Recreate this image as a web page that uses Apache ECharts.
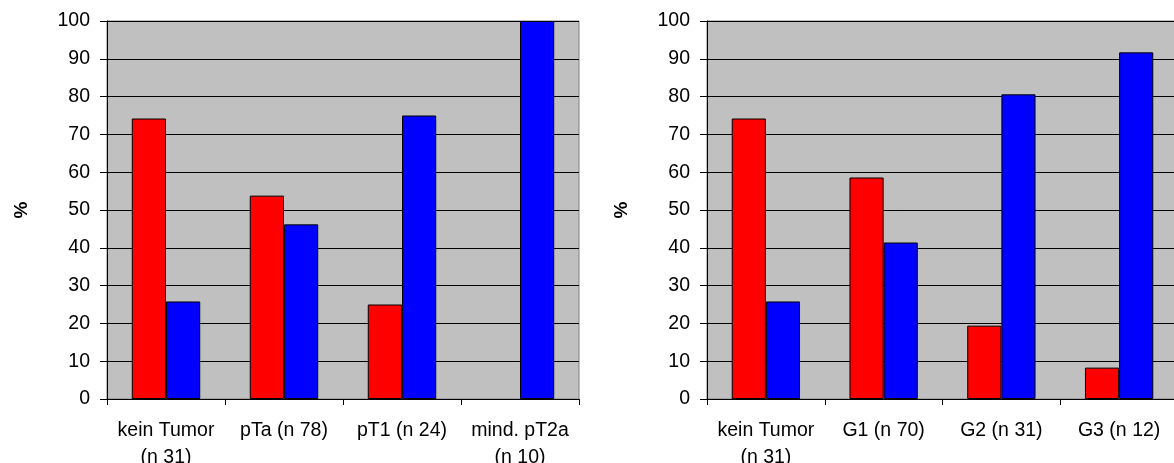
<!DOCTYPE html>
<html>
<head>
<meta charset="utf-8">
<script src="https://cdn.jsdelivr.net/npm/echarts@6/dist/echarts.min.js"></script>
<style>
  html, body { margin: 0; padding: 0; background: #fff; }
  #chart { width: 1174px; height: 463px; }
</style>
</head>
<body>
<div id="chart"></div>
<script>
// Tumour stage (left) and grade (right): share of cases per group, in %
const stageCategories = ['kein Tumor\n(n 31)', 'pTa (n 78)', 'pT1 (n 24)', 'mind. pT2a\n(n 10)'];
const stageRed = [74.2, 53.8, 25.0, 0];
const stageBlue = [25.8, 46.2, 75.0, 100];

const gradeCategories = ['kein Tumor\n(n 31)', 'G1 (n 70)', 'G2 (n 31)', 'G3 (n 12)'];
const gradeRed = [74.2, 58.6, 19.4, 8.3];
const gradeBlue = [25.8, 41.4, 80.6, 91.7];

const yTicks = { min: 0, max: 100, interval: 10 };
const yTitle = '%';

const FONT = '"Liberation Sans", Arial, sans-serif';

function xAxisFor(gridIndex, categories) {
  return {
    type: 'category',
    gridIndex: gridIndex,
    data: categories,
    axisLine: { show: true, lineStyle: { color: '#000', width: 1 } },
    axisTick: { show: true, length: 6, inside: false, lineStyle: { color: '#000' } },
    axisLabel: {
      color: '#000', fontSize: 19.5, fontFamily: FONT,
      margin: 18, lineHeight: 27, interval: 0, align: 'center'
    },
    splitLine: { show: false }
  };
}

function yAxisFor(gridIndex) {
  return {
    type: 'value',
    gridIndex: gridIndex,
    min: yTicks.min, max: yTicks.max, interval: yTicks.interval,
    name: yTitle,
    nameLocation: 'middle',
    nameRotate: 90,
    nameGap: 76,
    nameTextStyle: { color: '#000', fontSize: 19, fontWeight: 'bold', fontFamily: FONT },
    axisLine: { show: true, lineStyle: { color: '#000', width: 1 } },
    axisTick: { show: true, length: 7, inside: false, lineStyle: { color: '#000' } },
    axisLabel: { color: '#000', fontSize: 19.5, fontFamily: FONT, margin: 17 },
    splitLine: { show: true, lineStyle: { color: '#000', width: 1 } }
  };
}

function barSeries(axisIndex, values, color) {
  return {
    type: 'bar',
    xAxisIndex: axisIndex,
    yAxisIndex: axisIndex,
    // zero-height bars get no outline so nothing is drawn for them
    data: values.map(v => (v === 0 ? { value: v, itemStyle: { borderWidth: 0 } } : v)),
    barGap: '0%',
    barCategoryGap: '42%',
    itemStyle: { color: color, borderColor: '#000', borderWidth: 1 },
    emphasis: { disabled: true },
    animation: false
  };
}

const chart = echarts.init(document.getElementById('chart'), null, { renderer: 'canvas' });
chart.setOption({
  backgroundColor: '#fff',
  animation: false,
  grid: [
    { left: 107, top: 21, width: 472, height: 378, show: true, outerBoundsMode: 'none',
      containLabel: false,
      backgroundColor: '#C0C0C0', borderColor: '#808080', borderWidth: 1 },
    { left: 707, top: 21, width: 471, height: 378, show: true, outerBoundsMode: 'none',
      containLabel: false,
      backgroundColor: '#C0C0C0', borderColor: '#808080', borderWidth: 1 }
  ],
  xAxis: [xAxisFor(0, stageCategories), xAxisFor(1, gradeCategories)],
  yAxis: [yAxisFor(0), yAxisFor(1)],
  series: [
    barSeries(0, stageRed, '#FF0000'),
    barSeries(0, stageBlue, '#0000FF'),
    barSeries(1, gradeRed, '#FF0000'),
    barSeries(1, gradeBlue, '#0000FF')
  ]
});
</script>
</body>
</html>
